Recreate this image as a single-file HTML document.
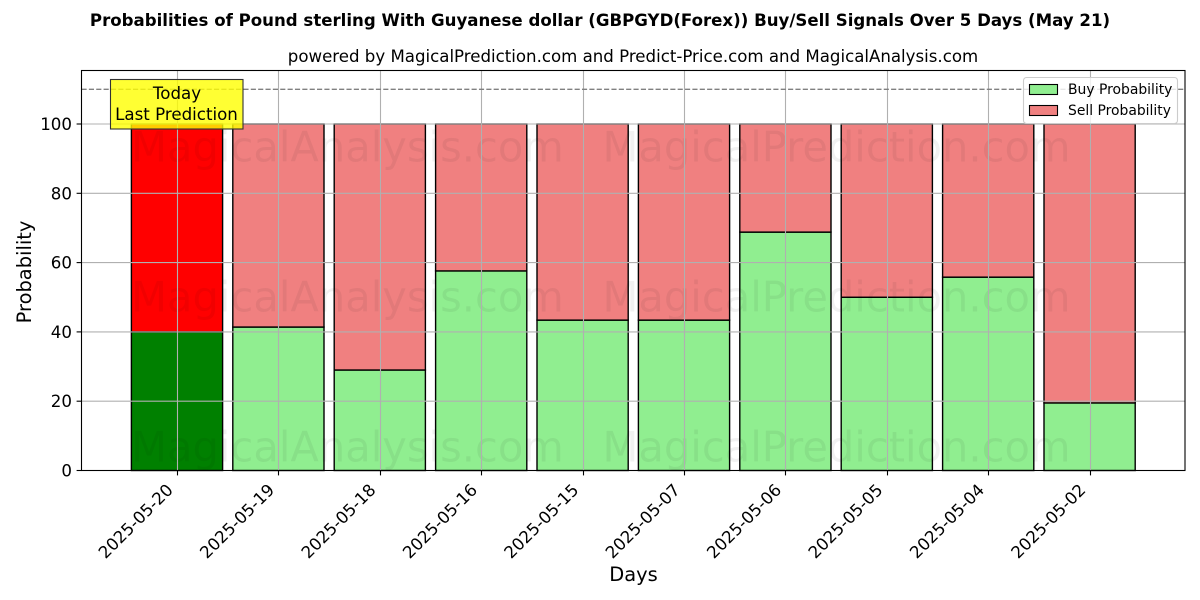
<!DOCTYPE html>
<html lang="en">
<head>
<meta charset="utf-8">
<title>GBPGYD Buy/Sell Signals</title>
<style>
html,body{margin:0;padding:0;background:#fff;}
svg{display:block;font-family:"DejaVu Sans","Liberation Sans",sans-serif;}
</style>
</head>
<body>
<svg id="chart" xmlns="http://www.w3.org/2000/svg" width="1200" height="600" viewBox="0 0 1200 600">
  <rect x="0" y="0" width="1200" height="600" fill="#fff"/>
  <text x="600" y="26" text-anchor="middle" font-size="16.6" font-weight="bold" fill="#000">Probabilities of Pound sterling With Guyanese dollar (GBPGYD(Forex)) Buy/Sell Signals Over 5 Days (May 21)</text>
  <text x="633" y="62" text-anchor="middle" font-size="16.62" fill="#000">powered by MagicalPrediction.com and Predict-Price.com and MagicalAnalysis.com</text>
  <g id="bars"></g>
  <g id="watermarks" font-size="41.6" fill="#000" fill-opacity="0.055">
    <text x="347.5" y="161.5" text-anchor="middle">MagicalAnalysis.com</text>
    <text x="836.5" y="161.5" text-anchor="middle">MagicalPrediction.com</text>
    <text x="347.5" y="311.5" text-anchor="middle">MagicalAnalysis.com</text>
    <text x="836.5" y="311.5" text-anchor="middle">MagicalPrediction.com</text>
    <text x="347.5" y="461.5" text-anchor="middle">MagicalAnalysis.com</text>
    <text x="836.5" y="461.5" text-anchor="middle">MagicalPrediction.com</text>
  </g>
  <g id="grid"></g>
  <line id="reference-line" stroke="#808080" stroke-width="1.39" stroke-dasharray="5.14 2.22"/>
  <g id="ticks"></g>
  <rect x="81.5" y="70.5" width="1103.5" height="400" fill="none" stroke="#000" stroke-width="1.1"/>
  <text x="31" y="272" text-anchor="middle" font-size="19.44" transform="rotate(-90 31 272)" fill="#000">Probability</text>
  <text x="633.5" y="581" text-anchor="middle" font-size="19.44" fill="#000">Days</text>
  <g>
    <rect x="110.5" y="79.5" width="132.5" height="49.5" fill="#ffff00" fill-opacity="0.8" stroke="#333" stroke-width="1.1"/>
    <text x="177" y="99" text-anchor="middle" font-size="16.67" fill="#000">Today</text>
    <text x="176.5" y="120" text-anchor="middle" font-size="16.67" fill="#000">Last Prediction</text>
  </g>
  <g>
    <rect x="1023.5" y="77.5" width="154" height="46" rx="3" fill="#fff" fill-opacity="0.8" stroke="#ccc" stroke-width="1.1"/>
    <rect x="1029.5" y="84.5" width="28" height="10" fill="#90ee90" stroke="#000" stroke-width="1.1"/>
    <text x="1068" y="94" font-size="13.9" fill="#000">Buy Probability</text>
    <rect x="1029.5" y="105.5" width="28" height="10" fill="#f08080" stroke="#000" stroke-width="1.1"/>
    <text x="1068" y="115" font-size="13.9" fill="#000">Sell Probability</text>
  </g>
</svg>
<script>
const categories = ["2025-05-20","2025-05-19","2025-05-18","2025-05-16","2025-05-15","2025-05-07","2025-05-06","2025-05-05","2025-05-04","2025-05-02"];
const buyValues = [40, 41.4, 29, 57.6, 43.4, 43.4, 68.8, 50, 55.8, 19.5];
const sellValues = [60, 58.6, 71, 42.4, 56.6, 56.6, 31.2, 50, 44.2, 80.5];
const yTicks = [0, 20, 40, 60, 80, 100];
const referenceLevel = 110;

const NS = 'http://www.w3.org/2000/svg';
const xScale = i => 177 + 101.4 * i;
const yScale = v => 470.5 - 3.465 * v;
const barWidth = 91.2;

function make(tag, parent, attrs) {
  const el = document.createElementNS(NS, tag);
  for (const k in attrs) el.setAttribute(k, attrs[k]);
  parent.appendChild(el);
  return el;
}

const barsG = document.getElementById('bars');
const gridG = document.getElementById('grid');
const ticksG = document.getElementById('ticks');

categories.forEach((cat, i) => {
  const x = xScale(i) - barWidth / 2;
  const buyTop = yScale(buyValues[i]);
  const sellTop = yScale(buyValues[i] + sellValues[i]);
  const buy = make('rect', barsG, {x: x, y: buyTop, width: barWidth, height: yScale(0) - buyTop, fill: i === 0 ? '#008000' : '#90ee90', stroke: '#000', 'stroke-width': 1.4});
  
  
  const sell = make('rect', barsG, {x: x, y: sellTop, width: barWidth, height: buyTop - sellTop, fill: i === 0 ? '#ff0000' : '#f08080', stroke: '#000', 'stroke-width': 1.4});
  
  

  const gx = Math.round(xScale(i)) + 0.5;
  const vGrid = make('line', gridG, {x1: gx, x2: gx, y1: 70.5, y2: 470.5, stroke: '#b0b0b0', 'stroke-width': 1.1});
  
  
  const tick = make('line', ticksG, {x1: gx, x2: gx, y1: 470.5, y2: 475.4, stroke: '#000', 'stroke-width': 1.1});
  
  
  const lx = xScale(i) - 3;
  const ly = 491;
  const label = make('text', ticksG, {x: lx, y: ly, 'text-anchor': 'end', 'font-size': 16.67, fill: '#000', transform: 'rotate(-45 ' + lx + ' ' + ly + ')'});
  
  
  label.textContent = cat;
});

yTicks.forEach(v => {
  const y = yScale(v);
  const hGrid = make('line', gridG, {x1: 81.5, x2: 1185, y1: y, y2: y, stroke: '#b0b0b0', 'stroke-width': 1.1});
  
  
  const tick = make('line', ticksG, {x1: 76.6, x2: 81.5, y1: y, y2: y, stroke: '#000', 'stroke-width': 1.1});
  
  
  const label = make('text', ticksG, {x: 72, y: y + 6, 'text-anchor': 'end', 'font-size': 16.67, fill: '#000'});
  
  
  label.textContent = v;
});

const refLine = document.getElementById('reference-line');
refLine.setAttribute('x1', 81.5);
refLine.setAttribute('x2', 1185);
refLine.setAttribute('y1', yScale(referenceLevel));
refLine.setAttribute('y2', yScale(referenceLevel));
</script>
</body>
</html>
